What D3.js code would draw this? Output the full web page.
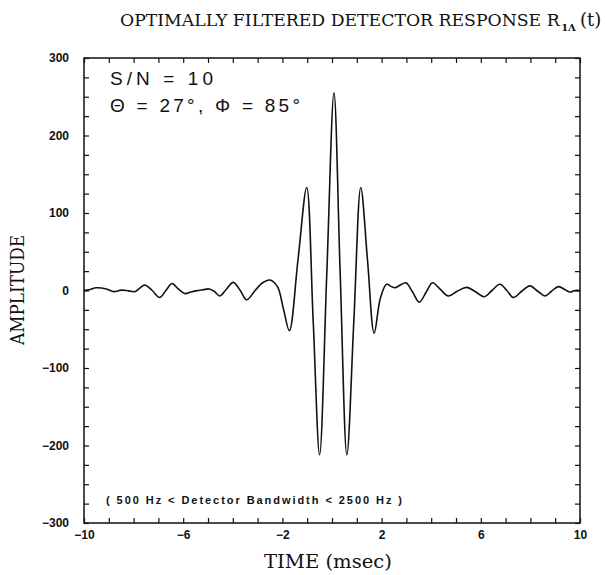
<!DOCTYPE html>
<html>
<head>
<meta charset="utf-8">
<script src="https://cdn.jsdelivr.net/npm/d3@7"></script>
<style>
  html, body { margin: 0; padding: 0; background: #fff; }
  svg { display: block; }
  .tick text { font-family: "Liberation Sans", Arial, sans-serif; font-weight: bold; font-size: 12px; fill: #111; }
  .domain { display: none; }
  .tick line { stroke: #111; stroke-width: 1.2; }
</style>
</head>
<body>
<svg id="chart" width="605" height="575"></svg>
<script>
// Time axis (msec) and the filtered detector response amplitude
const timeMs = [
  -10.0, -9.8, -9.5, -9.1, -8.8, -8.5, -8.2, -7.95, -7.75, -7.55,
  -7.25, -6.95, -6.7, -6.45, -6.2, -5.93, -5.7, -5.5, -5.2, -4.95,
  -4.75, -4.52, -4.25, -3.98, -3.7, -3.44, -3.1, -2.8, -2.5, -2.2,
  -1.95, -1.72, -1.37, -1.02, -0.76, -0.5, -0.21, 0.08, 0.33, 0.6,
  0.88, 1.16, 1.43, 1.7, 1.95, 2.2, 2.4, 2.54, 2.75, 2.98,
  3.25, 3.52, 3.8, 4.05, 4.35, 4.69, 5.05, 5.43, 5.8, 6.14,
  6.45, 6.77, 7.05, 7.31, 7.65, 7.98, 8.3, 8.59, 8.85, 9.13,
  9.4, 9.6, 9.8, 10.0
];
const amplitude = [
  0, 1, 3.5, 2, -1.5, 0.5, -0.5, -1.5, 3, 7,
  0, -9, 0, 9, 2, -4, -2, -0.5, 1, 2,
  -1, -7, 2, 10.5, 0, -12, 0, 10, 13.5, 5,
  -25, -52, 40, 133, -38, -212, 22, 255, 22, -212,
  -40, 133, 40, -55, -10, 8, 5, 3.5, 7, 10,
  -2, -15, -2, 10, 2, -7, -1, 4, -2, -8,
  0, 8, 0, -9, -1, 6, -1, -7, -1, 5,
  1, -2, 0, 0
];

const xTicks = d3.range(-10, 10.001, 1);
const xTickLabels = [-10, -6, -2, 2, 6, 10];
const yTicks = d3.range(-300, 300.001, 25);
const yTickLabels = [-300, -200, -100, 0, 100, 200, 300];

const titleText = "OPTIMALLY FILTERED DETECTOR RESPONSE R";
const titleSub = "1\u039B";
const titleTail = "(t)";
const xLabel = "TIME (msec)";
const yLabel = "AMPLITUDE";
const noteLines = ["S/N = 10", "\u0398 = 27\u00B0, \u03A6 = 85\u00B0"];
const bandNote = "( 500 Hz < Detector Bandwidth < 2500 Hz )";

const svg = d3.select("#chart");
const plotL = 84, plotR = 580, plotT = 58, plotB = 523;

const x = d3.scaleLinear().domain([-10, 10]).range([plotL, plotR]);
const y = d3.scaleLinear().domain([-300, 300]).range([plotB, plotT]);

const fmtX = d => xTickLabels.includes(Math.round(d)) ? d3.format("d")(d) : "";
const fmtY = d => yTickLabels.includes(Math.round(d)) ? d3.format("d")(d) : "";

// Axes with inward ticks on all four sides
svg.append("g").attr("transform", `translate(0,${plotB})`)
  .call(d3.axisBottom(x).tickValues(xTicks).tickSize(-5).tickPadding(7).tickFormat(fmtX));
svg.append("g").attr("transform", `translate(0,${plotT})`)
  .call(d3.axisTop(x).tickValues(xTicks).tickSize(-5).tickFormat(""));
svg.append("g").attr("transform", `translate(${plotL},0)`)
  .call(d3.axisLeft(y).tickValues(yTicks).tickSize(-5).tickPadding(15).tickFormat(fmtY));
svg.append("g").attr("transform", `translate(${plotR},0)`)
  .call(d3.axisRight(y).tickValues(yTicks).tickSize(-5).tickFormat(""));

// Plot frame
svg.append("rect")
  .attr("x", plotL).attr("y", plotT)
  .attr("width", plotR - plotL).attr("height", plotB - plotT)
  .attr("fill", "none").attr("stroke", "#111").attr("stroke-width", 1.5);

// Response curve
const pts = timeMs.map((t, i) => [t, amplitude[i]]);
const line = d3.line()
  .x(d => x(d[0])).y(d => y(d[1]))
  .curve(d3.curveCatmullRom.alpha(0.5));
svg.append("path")
  .datum(pts)
  .attr("d", line)
  .attr("fill", "none")
  .attr("stroke", "#111")
  .attr("stroke-width", 1.6)
  .attr("stroke-linejoin", "round");

// Title: main text sized to span 120..560, then subscript and argument placed after it
const serif = "'DejaVu Serif', 'Liberation Serif', serif";
const titleMain = svg.append("text")
  .attr("x", 120).attr("y", 26)
  .attr("font-family", serif).attr("font-size", 18).attr("fill", "#111")
  .text(titleText);
const natural = titleMain.node().getComputedTextLength();
titleMain.attr("font-size", 18 * 440 / natural);
const mainEnd = 120 + titleMain.node().getComputedTextLength();
const sub = svg.append("text")
  .attr("x", mainEnd + 1.5).attr("y", 31)
  .attr("font-family", serif).attr("font-size", 10).attr("font-weight", "bold").attr("fill", "#111")
  .text(titleSub);
const subEnd = mainEnd + 1.5 + sub.node().getComputedTextLength();
svg.append("text")
  .attr("x", subEnd + 4).attr("y", 26)
  .attr("font-family", serif).attr("font-size", 18).attr("fill", "#111")
  .text(titleTail);

// Axis titles
svg.append("text")
  .attr("x", 328).attr("y", 568)
  .attr("text-anchor", "middle")
  .attr("font-family", serif).attr("font-size", 18).attr("fill", "#111")
  .attr("textLength", 128).attr("lengthAdjust", "spacingAndGlyphs")
  .text(xLabel);
svg.append("text")
  .attr("transform", "translate(24,290) rotate(-90)")
  .attr("text-anchor", "middle")
  .attr("font-family", serif).attr("font-size", 18).attr("fill", "#111")
  .attr("textLength", 110).attr("lengthAdjust", "spacingAndGlyphs")
  .text(yLabel);

// Annotations inside the plot
const sans = "Liberation Sans";
svg.append("text")
  .attr("x", 110).attr("y", 85)
  .attr("font-family", sans).attr("font-size", 19).attr("fill", "#111")
  .attr("textLength", 103).attr("lengthAdjust", "spacing")
  .text(noteLines[0]);
svg.append("text")
  .attr("x", 110).attr("y", 112)
  .attr("font-family", sans).attr("font-size", 19).attr("fill", "#111")
  .attr("textLength", 190).attr("lengthAdjust", "spacing")
  .text(noteLines[1]);
svg.append("text")
  .attr("x", 106).attr("y", 504)
  .attr("font-family", sans).attr("font-size", 11).attr("font-weight", "bold").attr("fill", "#111")
  .attr("textLength", 296).attr("lengthAdjust", "spacing")
  .text(bandNote);
</script>
</body>
</html>
